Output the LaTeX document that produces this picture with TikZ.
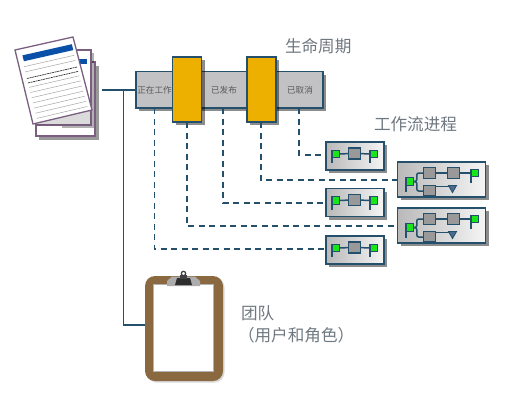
\documentclass[tikz,border=0pt]{standalone}
\usepackage{fontspec}
\setmainfont{Noto Sans CJK SC}
\usetikzlibrary{calc,shadows}
\definecolor{teal}{HTML}{24506B}
\definecolor{amber}{HTML}{EDB000}
\definecolor{barg}{HTML}{C2C2C4}
\definecolor{brownc}{HTML}{8A6840}
\definecolor{titleg}{HTML}{6F7880}
\definecolor{pagel}{HTML}{7A5F80}
\definecolor{blueb}{HTML}{0A4FA8}
\definecolor{greenb}{HTML}{19E619}
\newcommand{\smallflow}[3]{%
  \node[flowbox,minimum width=58pt,minimum height=28pt,anchor=north west] (#1) at (#2,#3) {};
  \node[gbox] (#1a) at (#2+28.5,#3+11.5) {};
  \node[greenb] (#1s) at (#2+9.5,#3+12) {};
  \node[greenb] (#1e) at (#2+47.5,#3+12) {};
  \draw[wire] (#1s) -- (#1a);
  \draw[wire] (#1a) -- (#1e);
  \draw[wire] (#1s.north west) -- ++(0,13);
  \draw[wire] (#1e.north west) -- ++(0,13);
}
\newcommand{\bigflow}[3]{%
  \node[flowbox,minimum width=88pt,minimum height=35pt,anchor=north west] (#1) at (#2,#3) {};
  \node[greenb] (#1s) at (#2+12,#3+19.5) {};
  \coordinate (#1t) at (#2+55,#3+27);
  \draw[wire,rounded corners=2pt] (#1s.east) -- ++(3.5,0) |- (#2+26,#3+11);
  \draw[wire,rounded corners=2pt] (#1s.east) -- ++(3.5,0) |- (#2+26,#3+29);
  \node[gbox] (#1a) at (#2+32,#3+11) {};
  \node[gbox] (#1b) at (#2+56,#3+11) {};
  \node[greenb] (#1e) at (#2+77,#3+11) {};
  \node[gbox,minimum height=11pt] (#1c) at (#2+32,#3+29) {};
  \draw[wire] (#1a) -- (#1b);
  \draw[wire] (#1b) -- (#1e);
  \draw[wire] (#1c.east |- #1t) ++(0,-2.5) -- ++(14,0);
  \draw[wire] (#1s.north west) -- ++(0,14);
  \draw[wire] (#1e.north west) -- ++(0,14);
  \draw[wire,line width=2.6pt] (#1c.south west) -- (#1c.south east);
}
\tikzset{
  every node/.style={outer sep=0pt},
  wire/.style={draw=teal,line width=1.5pt},
  dash line/.style={draw=teal,line width=1.7pt,dash pattern=on 6pt off 4.5pt},
  softshadow/.style={drop shadow={shadow xshift=3pt,shadow yshift=-3pt,fill=black,opacity=.45}},
  barbox/.style={draw=teal,line width=1.7pt,fill=barg,inner sep=0pt,softshadow},
  statebox/.style={draw=teal,line width=1.7pt,fill=amber,inner sep=0pt,minimum width=29pt,minimum height=65pt,softshadow},
  flowbox/.style={draw=teal,line width=1.7pt,left color=gray!55,right color=gray!8,inner sep=0pt,softshadow},
  gbox/.style={draw=teal,line width=1.7pt,fill=gray!80,inner sep=0pt,minimum width=12pt,minimum height=11pt},
  greenb/.style={draw=teal,line width=.6pt,fill=greenb,inner sep=0pt,minimum size=7.5pt},
  statelabel/.style={text=gray!70!black,font=\fontsize{8.6}{9}\selectfont,inner sep=0pt},
  titlelabel/.style={text=titleg,font=\fontsize{16.6}{18}\selectfont,inner sep=0pt,anchor=west},
  page/.style={draw=pagel,line width=1.2pt,fill=white},
}
\begin{document}
\begin{tikzpicture}[x=1pt,y=-1pt]
\useasboundingbox (0,0) rectangle (526,404);
% pages
\fill[black,opacity=.4] (39,66) rectangle (98.5,139.5);
\draw[page] (36,62) rectangle (95,136);
\fill[black,opacity=.3] (62,53) rectangle (94,128);
\draw[page] (36,125) rectangle (91,50);
\fill[blueb] (70,58.5) rectangle (87,64);
\coordinate (A) at (15,50); \coordinate (B) at (73,37);
\coordinate (C) at (92,110); \coordinate (D) at (33,124);
\fill[black,opacity=.14] (35,124.4) -- (90.4,124.4) -- (90.4,110) -- (33,118) -- cycle;
\draw[page,line width=1.3pt] (A) -- (B) -- (C) -- (D) -- cycle;
\fill[blueb] ($($(A)!.09!(D)$)!.1!($(B)!.09!(C)$)$) -- ($($(A)!.09!(D)$)!.95!($(B)!.09!(C)$)$)
  -- ($($(A)!.17!(D)$)!.95!($(B)!.17!(C)$)$) -- ($($(A)!.17!(D)$)!.1!($(B)!.17!(C)$)$) -- cycle;
\foreach \t in {.24,.31,.52,.59,.66,.73,.80,.87,.94}
  \draw[gray!70,line width=.5pt] ($($(A)!\t!(D)$)!.08!($(B)!\t!(C)$)$) -- ($($(A)!\t!(D)$)!.94!($(B)!\t!(C)$)$);
\foreach \t in {.40,.46}
  \draw[gray!40!black,line width=.7pt,dash pattern=on 2pt off .6pt] ($($(A)!\t!(D)$)!.08!($(B)!\t!(C)$)$) -- ($($(A)!\t!(D)$)!.94!($(B)!\t!(C)$)$);
\coordinate (docs) at (102,90);
% lifecycle bar
\node[barbox,minimum width=187pt,minimum height=36.5pt,anchor=north west] (bar) at (136,71.5) {};
\coordinate (d1) at (154.5,108); \coordinate (d3) at (223,108); \coordinate (d5) at (299,108);
\node[statelabel] (work) at (154.5,90) {正在工作};
\node[statelabel] (pub) at (224,90.5) {已发布};
\node[statelabel] (can) at (300,90.5) {已取消};
% clipboard
\node[fill=brownc,rounded corners=10pt,inner sep=0pt,minimum width=78pt,minimum height=105pt,anchor=north west,
  drop shadow={shadow xshift=1.5pt,shadow yshift=-1.5pt,fill=black,opacity=.15}] (clip) at (145,276) {};
\node[fill=white,draw=gray!60,line width=.5pt,inner sep=0pt,minimum width=60pt,minimum height=87pt,anchor=north west] (sheet) at (153.5,284) {};
\fill[gray!65] (167,281) -- (172,276.5) -- (195,276.5) -- (200,281) -- (200,286) -- (167,286) -- cycle;
\fill[gray!35!black] (177,278) -- (190,278) -- (192,285) -- (175,285) -- cycle;
\draw[gray!50!black,line width=1.2pt] (183.5,273.5) circle (2.2pt);
\fill[gray!50!black] (180,275) rectangle (187,279);
% flows
\smallflow{fa}{326}{142}
\smallflow{fb}{326}{188.5}
\smallflow{fc}{326}{236}
\bigflow{ga}{397.5}{162}
\bigflow{gb}{397.5}{208}
\foreach \n in {ga,gb}{
  \fill[blueb!45!gray,draw=teal,line width=.9pt] ($(\n t)+(-4,-3.5)$) -- ($(\n t)+(4,-3.5)$) -- ($(\n t)+(0,3.5)$) -- cycle;
}
% connectors
\draw[wire] (docs) -- (bar.west |- docs);
\draw[wire] (123.5,90) -- (123.5,325) -- (clip.west |- 0,325);
\draw[dash line] (d5) |- (fa.west |- 0,155);
\draw[dash line] (d3) |- (fb.west |- 0,203);
\draw[dash line] (d1) |- (fc.west |- 0,249);
% state bars, above the lifecycle bar
\node[statebox,anchor=north west] (s1) at (172.5,57) {};
\node[statebox,anchor=north west] (s2) at (247,57) {};
\draw[dash line] (s2.south -| 261,0) |- (ga.west |- 0,180);
\draw[dash line] (s1.south -| 187,0) |- (gb.west |- 0,226);
% labels
\node[titlelabel] (t1) at (285,46) {生命周期};
\node[titlelabel] (t2) at (374,124) {工作流进程};
\node[titlelabel] (t3) at (241,313) {团队};
\node[titlelabel] (t4) at (238,335) {（用户和角色）};
\end{tikzpicture}
\end{document}
